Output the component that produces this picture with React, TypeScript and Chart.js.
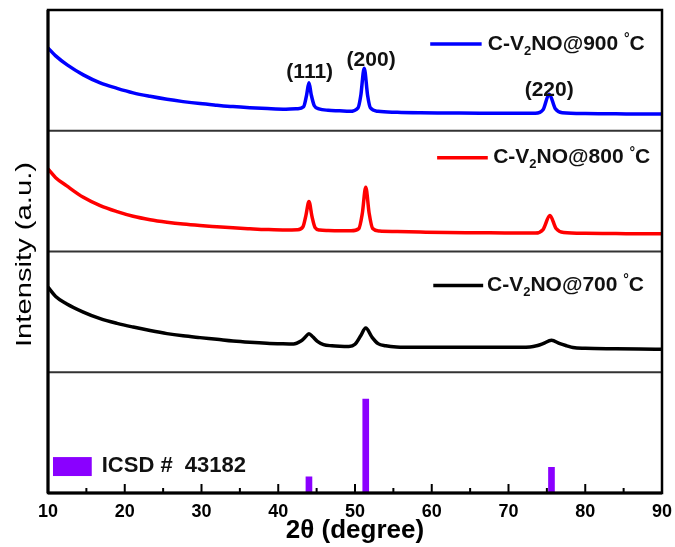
import React, { useEffect, useRef } from "react";
import { Chart, registerables } from "chart.js";

Chart.register(...registerables);

const FONT = "'Liberation Sans', Arial, Helvetica, sans-serif";

// ---- data (2θ in degrees, intensity in arbitrary units per panel) ----
const blueAngles = [10, 11, 12.5, 14.6, 16.8, 19.0, 21.1, 23.3, 25.5, 27.6, 29.8, 32, 34.1, 36.3, 38.6, 41.0, 42.5, 43.3, 43.7, 44.0, 44.3, 44.7, 45.3, 46.5, 48.0, 49.3, 50.4, 50.75, 51.2, 51.65, 52.0, 53.0, 55.5, 58.5, 62.0, 66.3, 70.0, 73.5, 74.5, 75.3, 76.1, 77.0, 80.0, 84.0, 87.0, 90];
const blueCounts = [83, 75, 66, 56, 48, 42.5, 38, 34.5, 31.5, 29.2, 27.2, 25.6, 24.2, 23.1, 22.2, 21.6, 22, 24, 36, 48, 36, 25, 22, 20.5, 20, 19.5, 23, 35, 62.7, 35, 23, 19.5, 18.5, 18, 17.8, 17.5, 17.5, 17.5, 21, 36.7, 22, 18, 17.2, 17, 16.8, 16.7];

const redAngles = [10, 11, 12.4, 14.6, 16.8, 19.0, 21.1, 23.3, 25.5, 27.6, 29.8, 32, 34.1, 36.3, 38.5, 41.0, 42.5, 43.2, 43.6, 44.0, 44.4, 44.8, 45.4, 46.5, 48.0, 49.5, 50.5, 50.95, 51.4, 51.85, 52.3, 53.2, 55.5, 58.5, 62, 66, 70, 73.5, 74.5, 75.4, 76.2, 77.2, 80, 84, 87, 90];
const redCounts = [82.7, 74, 66, 54.3, 46, 40, 35.3, 31.9, 29.4, 27.5, 26, 24.8, 23.7, 22.8, 22, 21.5, 21.8, 24.5, 36, 50, 35, 24, 21.5, 21, 20.8, 20.8, 23, 38, 64.3, 38, 23, 20.5, 20, 19.5, 19, 18.8, 18.5, 18.5, 22, 36, 23, 19, 18.2, 18, 17.8, 17.7];

const blackAngles = [10, 11, 12.4, 14.6, 16.8, 19.0, 21.1, 23.3, 25.5, 27.6, 29.8, 32, 34.1, 36.3, 38.5, 40.5, 42.0, 42.9, 43.5, 44.0, 44.5, 45.1, 45.9, 47.0, 48.0, 49.2, 50.0, 50.7, 51.4, 52.2, 53.0, 54.0, 55.4, 58, 62, 66, 70, 72.8, 73.8, 74.5, 75.6, 76.7, 77.6, 78.4, 80, 84, 87, 90];
const blackCounts = [85.3, 76, 68.7, 60.3, 53.7, 49, 45.3, 41.8, 38.7, 36.5, 34.7, 33, 31.3, 30, 29, 28.5, 28.3, 31, 35, 38.7, 35.5, 31, 27.7, 26.5, 26, 25.8, 28, 36, 44.3, 35.3, 28.7, 26.5, 25.3, 25, 25, 25, 25, 25.3, 26.8, 28.7, 32, 28.7, 26.5, 24.7, 24, 23.5, 23.2, 23];

const icsdAngles = [44.0, 51.4, 75.6];
const icsdCounts = [16.3, 94, 25.7];

const minorTicks = [15, 25, 35, 45, 55, 65, 75, 85];

const seriesNames = ["C-V2NO@900 °C", "C-V2NO@800 °C", "C-V2NO@700 °C"];
const seriesTemps = ["900", "800", "700"];
const seriesColors = ["#0000FF", "#FF0000", "#000000"];
const refName = "ICSD #  43182";
const refColor = "#8A00FF";

const peakLabels = ["(111)", "(200)", "(220)"];
const peakLabelAngles = [44.1, 52.1, 75.3];
const peakLabelLevels = [59, 71, 41];

// legend placement (data coordinates of each panel)
const legendLineFrom = [59.8, 60.7, 60.2];
const legendLineTo = [66.5, 67.3, 66.7];
const legendLevel = [87, 94, 87];
const legendTextAt = [67.3, 68.0, 67.2];

const panelIds = ["yBlue", "yRed", "yBlack", "yRef"];

function toPoints(xs: number[], ys: number[]) {
  return xs.map((x, i) => ({ x, y: ys[i] }));
}

function drawSegments(ctx: CanvasRenderingContext2D, x: number, y: number, segs: [string, string][]) {
  let cx = x;
  for (const [t, kind] of segs) {
    if (kind === "n") {
      ctx.font = `bold 21px ${FONT}`;
      ctx.fillText(t, cx, y);
    } else if (kind === "sub") {
      ctx.font = `bold 13px ${FONT}`;
      ctx.fillText(t, cx, y + 7);
    } else {
      ctx.font = `bold 14px ${FONT}`;
      ctx.fillText(t, cx, y - 5);
    }
    cx += ctx.measureText(t).width;
  }
}

const decorPlugin = {
  id: "decor",
  afterDatasetsDraw(chart: any) {
    const { ctx, chartArea: a, scales } = chart;
    const xs = scales.x;
    ctx.save();

    // panel dividers
    ctx.strokeStyle = "#333";
    ctx.lineWidth = 2;
    for (const id of panelIds.slice(0, 3)) {
      const b = scales[id].bottom;
      ctx.beginPath();
      ctx.moveTo(a.left, b);
      ctx.lineTo(a.right, b);
      ctx.stroke();
    }

    // frame
    ctx.strokeStyle = "#000";
    ctx.lineWidth = 2.5;
    ctx.strokeRect(a.left, a.top, a.right - a.left, a.bottom - a.top);
    ctx.lineWidth = 3;
    ctx.beginPath();
    ctx.moveTo(a.left, a.bottom);
    ctx.lineTo(a.right, a.bottom);
    ctx.moveTo(a.left, a.top);
    ctx.lineTo(a.left, a.bottom);
    ctx.stroke();

    // ticks (inward)
    ctx.lineWidth = 2;
    for (const t of xs.ticks) {
      const px = xs.getPixelForValue(t.value);
      ctx.beginPath();
      ctx.moveTo(px, a.bottom);
      ctx.lineTo(px, a.bottom - 9);
      ctx.stroke();
    }
    for (const v of minorTicks) {
      const px = xs.getPixelForValue(v);
      ctx.beginPath();
      ctx.moveTo(px, a.bottom);
      ctx.lineTo(px, a.bottom - 5);
      ctx.stroke();
    }

    // legends for curves
    ctx.textBaseline = "middle";
    ctx.textAlign = "left";
    for (let i = 0; i < 3; i++) {
      const ys = scales[panelIds[i]];
      const py = ys.getPixelForValue(legendLevel[i]);
      ctx.strokeStyle = seriesColors[i];
      ctx.lineWidth = 3.5;
      ctx.beginPath();
      ctx.moveTo(xs.getPixelForValue(legendLineFrom[i]), py);
      ctx.lineTo(xs.getPixelForValue(legendLineTo[i]), py);
      ctx.stroke();
      ctx.fillStyle = "#111";
      drawSegments(ctx, xs.getPixelForValue(legendTextAt[i]), py, [
        ["C-V", "n"],
        ["2", "sub"],
        ["NO@" + seriesTemps[i] + " ", "n"],
        ["°", "sup"],
        ["C", "n"],
      ]);
    }

    // reference legend
    const yr = scales.yRef;
    const bx0 = xs.getPixelForValue(10.65);
    const bx1 = xs.getPixelForValue(15.7);
    const by0 = yr.getPixelForValue(36);
    const by1 = yr.getPixelForValue(17);
    ctx.fillStyle = refColor;
    ctx.fillRect(bx0, by0, bx1 - bx0, by1 - by0);
    ctx.fillStyle = "#111";
    ctx.font = `bold 22px ${FONT}`;
    ctx.fillText(refName, xs.getPixelForValue(17.0), yr.getPixelForValue(27));

    // peak labels
    ctx.textAlign = "center";
    ctx.font = `bold 21px ${FONT}`;
    const yb = scales.yBlue;
    for (let i = 0; i < peakLabels.length; i++) {
      ctx.fillText(peakLabels[i], xs.getPixelForValue(peakLabelAngles[i]), yb.getPixelForValue(peakLabelLevels[i]));
    }

    // y title
    const title = "Intensity (a.u.)";
    ctx.save();
    ctx.translate(25, (a.top + a.bottom) / 2 + 3);
    ctx.rotate(-Math.PI / 2);
    ctx.font = `22px ${FONT}`;
    const w = ctx.measureText(title).width;
    ctx.scale(185 / w, 1);
    ctx.textAlign = "center";
    ctx.textBaseline = "middle";
    ctx.fillStyle = "#000";
    ctx.fillText(title, 0, 0);
    ctx.restore();

    ctx.restore();
  },
};

function panelAxis(weight: number) {
  return {
    type: "linear",
    position: "left",
    min: 0,
    max: 121,
    display: false,
    stack: "xrd",
    stackWeight: 1,
    weight,
  };
}

export default function App() {
  const ref = useRef<HTMLCanvasElement | null>(null);

  useEffect(() => {
    if (!ref.current) return;
    const lineStyle = {
      type: "line",
      pointRadius: 0,
      borderWidth: 3.5,
      cubicInterpolationMode: "monotone",
      fill: false,
      xAxisID: "x",
    };
    const chart = new Chart(ref.current, {
      type: "line",
      data: {
        datasets: [
          { ...lineStyle, label: seriesNames[0], data: toPoints(blueAngles, blueCounts), borderColor: seriesColors[0], yAxisID: "yBlue" },
          { ...lineStyle, label: seriesNames[1], data: toPoints(redAngles, redCounts), borderColor: seriesColors[1], yAxisID: "yRed" },
          { ...lineStyle, label: seriesNames[2], data: toPoints(blackAngles, blackCounts), borderColor: seriesColors[2], yAxisID: "yBlack" },
          {
            type: "bar",
            label: refName,
            data: toPoints(icsdAngles, icsdCounts),
            backgroundColor: refColor,
            barThickness: 6,
            xAxisID: "x",
            yAxisID: "yRef",
          },
        ],
      } as any,
      options: {
        animation: false,
        responsive: false,
        maintainAspectRatio: false,
        layout: { padding: { left: 48, right: 13, top: 10, bottom: 0 } },
        plugins: { legend: { display: false }, tooltip: { enabled: false } },
        scales: {
          x: {
            type: "linear",
            position: "bottom",
            min: 10,
            max: 90,
            offset: false,
            grid: { display: false, drawTicks: false, offset: false },
            border: { display: false },
            ticks: {
              stepSize: 10,
              color: "#000",
              padding: 8,
              maxRotation: 0,
              font: { family: FONT, size: 18, weight: "bold" },
            },
            title: {
              display: true,
              text: "2θ (degree)",
              color: "#000",
              font: { family: FONT, size: 26, weight: "bold" },
              padding: { top: 0, bottom: 1 },
            },
            afterFit: (s: any) => {
              s.height = 54;
              s.paddingLeft = 0;
              s.paddingRight = 0;
            },
          },
          yBlue: panelAxis(4),
          yRed: panelAxis(3),
          yBlack: panelAxis(2),
          yRef: panelAxis(1),
        } as any,
      },
      plugins: [decorPlugin],
    } as any);
    return () => chart.destroy();
  }, []);

  return (
    <div style={{ position: "fixed", left: 0, top: 0, width: 675, height: 547, background: "#fff" }}>
      <canvas ref={ref} width={675} height={547} style={{ display: "block" }} />
    </div>
  );
}
